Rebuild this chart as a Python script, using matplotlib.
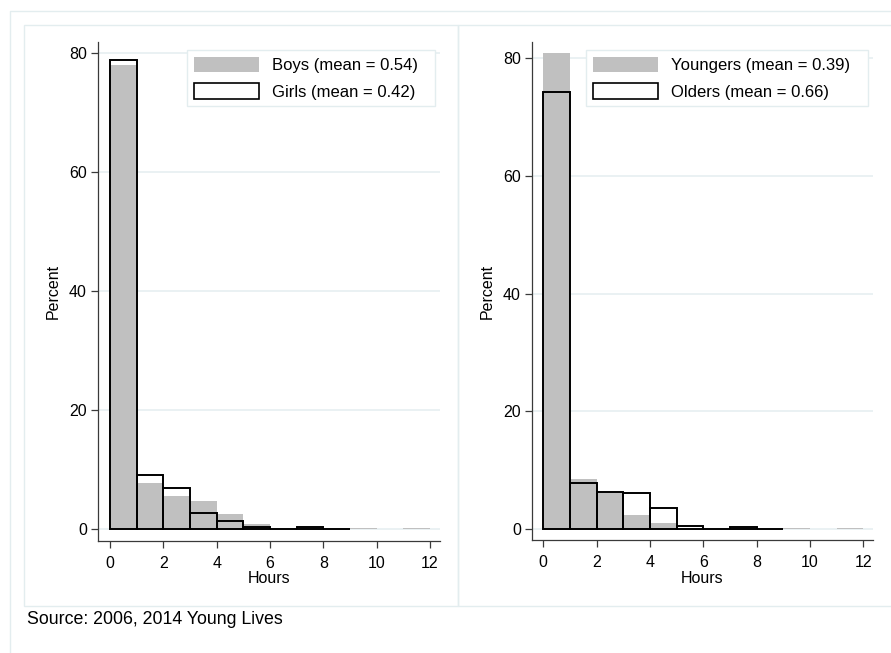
import matplotlib
matplotlib.use("Agg")
import matplotlib.pyplot as plt
from matplotlib.patches import Patch, Rectangle
from matplotlib.lines import Line2D
import numpy as np

plt.rcParams['font.family'] = ['Liberation Sans', 'DejaVu Sans']

# histogram data: 1-hour bins, percent of children
bin_edges = list(range(0, 13))
boys = [78.0, 7.8, 5.6, 4.8, 2.6, 0.95, 0.1, 0.3, 0.1, 0.25, 0.0, 0.2]
girls = [78.9, 9.1, 6.9, 2.8, 1.4, 0.4, 0.1, 0.35, 0.15]
youngers = [80.75, 8.6, 6.2, 2.4, 1.0, 0.15, 0.05, 0.3, 0.1, 0.25, 0.0, 0.2]
olders = [74.1, 7.9, 6.3, 6.1, 3.6, 0.6, 0.1, 0.35, 0.15]

left_labels = ["Boys (mean = 0.54)", "Girls (mean = 0.42)"]
right_labels = ["Youngers (mean = 0.39)", "Olders (mean = 0.66)"]
y_ticks = [0, 20, 40, 60, 80]
x_ticks = [0, 2, 4, 6, 8, 10, 12]
source_note = "Source: 2006, 2014 Young Lives"

W, H = 891, 653
GREY = '#c0c0c0'
FRAME = '#e3edef'
GRID = '#e6eff1'
SPINE = '#3a3a3a'


def fx(px):
    return px / W


def fy(py):
    return 1 - py / H


fig = plt.figure(figsize=(W / 100, H / 100), dpi=100)
fig.patch.set_facecolor('white')

# light outer frame and panel boxes
fig.add_artist(Line2D([fx(10), fx(10), fx(W + 5)], [fy(H + 5), fy(11), fy(11)],
                      transform=fig.transFigure, color=FRAME, lw=1))
for x0, x1 in [(24, 458), (458, W + 5)]:
    fig.add_artist(Rectangle((fx(x0), fy(606)), fx(x1) - fx(x0), fy(25) - fy(606),
                             transform=fig.transFigure, fill=False,
                             edgecolor=FRAME, lw=1))


def panel(rect, filled, outline, labels, xlim, ylim, leg_x):
    ax = fig.add_axes(rect)
    ax.bar(bin_edges[:len(filled)], filled, width=1, align='edge',
           color=GREY, lw=0, zorder=2)
    ax.bar(bin_edges[:len(outline)], outline, width=1, align='edge',
           fill=False, edgecolor='black', lw=1.4, zorder=3)
    ax.set_xlim(*xlim)
    ax.set_ylim(*ylim)
    ax.set_xticks(x_ticks)
    ax.set_yticks(y_ticks)
    ax.yaxis.grid(True, color=GRID, lw=1.2)
    ax.set_axisbelow(True)
    for s in ['top', 'right']:
        ax.spines[s].set_visible(False)
    for s in ['left', 'bottom']:
        ax.spines[s].set_color(SPINE)
        ax.spines[s].set_linewidth(0.9)
    ax.tick_params(axis='both', length=5, width=0.9, color=SPINE,
                   labelsize=11.5)
    ax.tick_params(axis='y', pad=3)
    ax.tick_params(axis='x', pad=6)
    ax.set_ylabel('Percent', fontsize=11.5, labelpad=6)
    ax.set_xlabel('Hours', fontsize=11.5, labelpad=0.5)

    handles = [Patch(facecolor=GREY, edgecolor='none'),
               Patch(facecolor='white', edgecolor='black', lw=1.2)]
    ax.legend(handles, labels, loc='upper left',
              bbox_to_anchor=(fx(leg_x[0]), fy(50), fx(leg_x[1]) - fx(leg_x[0]), 0),
              bbox_transform=fig.transFigure, mode='expand', borderaxespad=0,
              fontsize=12, frameon=True, fancybox=False, edgecolor=FRAME,
              framealpha=1, handlelength=3.9, handleheight=1.08,
              handletextpad=0.8, labelspacing=0.6, borderpad=0.4)
    return ax


panel([fx(98), fy(540.5), fx(440) - fx(98), fy(42) - fy(540.5)],
      boys, girls, left_labels, (-0.45, 12.375), (-1.85, 81.9), (187, 435))
panel([fx(532), fy(540), fx(873) - fx(532), fy(42) - fy(540)],
      youngers, olders, right_labels, (-0.42, 12.36), (-1.8, 82.66), (586, 868))

fig.text(fx(27), fy(620), source_note, fontsize=12.8, va='center', ha='left')

fig.savefig('out.png', dpi=100)
